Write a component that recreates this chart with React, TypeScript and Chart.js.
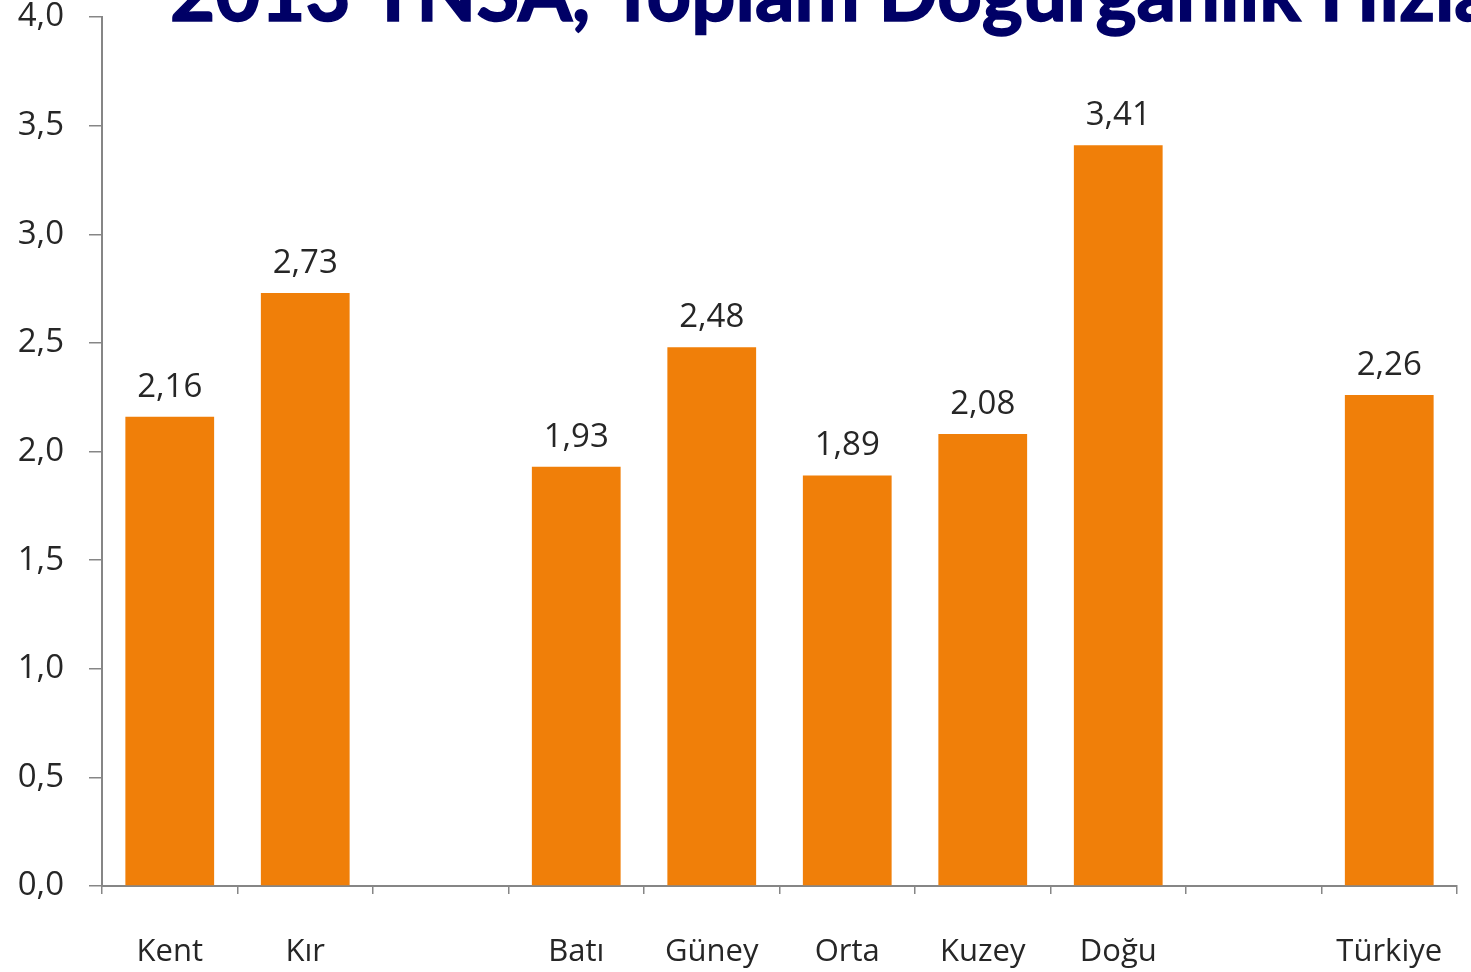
import React, { useEffect, useRef } from "react";
import { Chart, registerables } from "chart.js";

Chart.register(...registerables);

const categories = ["Kent", "Kır", "", "Batı", "Güney", "Orta", "Kuzey", "Doğu", "", "Türkiye"];
const values: (number | null)[] = [2.16, 2.73, null, 1.93, 2.48, 1.89, 2.08, 3.41, null, 2.26];
const titleText = "2013 TNSA, Toplam Doğurganlık Hızları";
const yMin = 0;
const yMax = 4;
const yStep = 0.5;

const fmt = (v: number, d: number) => v.toFixed(d).replace(".", ",");

const titlePlugin = {
  id: "clippedTitle",
  afterDraw(chart: any) {
    const ctx = chart.ctx;
    ctx.save();
    const ref = "2013 TNSA, Toplam Doğurganlık ";
    ctx.font = 'bold 100px "Lato"';
    const w100 = ctx.measureText(ref).width;
    const size = (100 * 1150) / w100;
    ctx.font = `bold ${size}px "Lato"`;
    ctx.fillStyle = "#000066";
    ctx.strokeStyle = "#000066";
    ctx.lineWidth = 1.5;
    ctx.textAlign = "left";
    ctx.textBaseline = "alphabetic";
    ctx.fillText(titleText, 170, 21);
    ctx.strokeText(titleText, 170, 21);
    ctx.restore();
  },
};

const valueLabelPlugin = {
  id: "valueLabels",
  afterDatasetsDraw(chart: any) {
    const ctx = chart.ctx;
    const meta = chart.getDatasetMeta(0);
    ctx.save();
    ctx.font = '33px "Open Sans"';
    ctx.fillStyle = "#262626";
    ctx.textAlign = "center";
    ctx.textBaseline = "alphabetic";
    meta.data.forEach((bar: any, i: number) => {
      const v = values[i];
      if (v == null) return;
      ctx.fillText(fmt(v, 2), bar.x, bar.y - 20);
    });
    ctx.restore();
  },
};

export default function App() {
  const ref = useRef<HTMLCanvasElement | null>(null);
  useEffect(() => {
    if (!ref.current) return;
    const chart = new Chart(ref.current, {
      type: "bar",
      data: {
        labels: categories,
        datasets: [
          {
            data: values,
            backgroundColor: "#F07F09",
            borderWidth: 0,
            categoryPercentage: 1,
            barPercentage: 0.655,
          },
        ],
      },
      options: {
        animation: false,
        responsive: false,
        layout: { padding: { top: 17, right: 14, left: 0, bottom: 0 } },
        plugins: {
          legend: { display: false },
          tooltip: { enabled: false },
          title: { display: false },
        },
        scales: {
          x: {
            grid: {
              drawOnChartArea: false,
              drawTicks: true,
              tickLength: 8,
              color: "#868686",
              lineWidth: 1.5,
              offset: true,
            },
            border: { color: "#868686", width: 2 },
            ticks: {
              color: "#262626",
              font: { family: "Open Sans", size: 31 },
              padding: 40,
              maxRotation: 0,
              autoSkip: false,
            },
            afterFit(scale: any) {
              scale.height = 86;
              scale.paddingLeft = 0;
              scale.paddingRight = 0;
            },
          },
          y: {
            min: yMin,
            max: yMax,
            grid: {
              drawOnChartArea: false,
              drawTicks: true,
              tickLength: 13,
              color: "#868686",
              lineWidth: 1.5,
            },
            border: { color: "#868686", width: 2 },
            ticks: {
              stepSize: yStep,
              color: "#262626",
              font: { family: "Open Sans", size: 33 },
              padding: 25,
              callback: (v: any) => fmt(Number(v), 1),
            },
            afterFit(scale: any) {
              scale.width = 102;
              scale.paddingTop = 0;
              scale.paddingBottom = 0;
            },
          },
        },
      },
      plugins: [valueLabelPlugin, titlePlugin],
    });
    return () => chart.destroy();
  }, []);
  return (
    <div style={{ position: "absolute", left: 0, top: 0, width: 1471, height: 972, background: "#fff" }}>
      <canvas ref={ref} width={1471} height={972} style={{ display: "block" }} />
    </div>
  );
}
